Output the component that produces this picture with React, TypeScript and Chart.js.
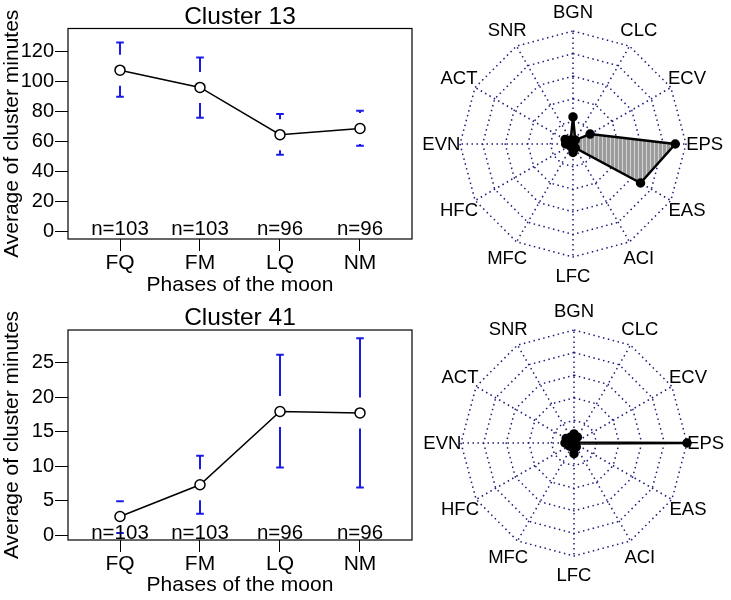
import React, { useEffect, useRef } from 'react';
import { Chart, registerables } from 'chart.js';

Chart.register(...registerables);

const FONT = '"Liberation Sans", Arial, Helvetica, sans-serif';

// ---- data ----
const phases = ['FQ', 'FM', 'LQ', 'NM'];
const sampleSizes = ['n=103', 'n=103', 'n=96', 'n=96'];

const c13Mean = [107.3, 95.8, 64.3, 68.4];
const c13Upper = [125.8, 115.8, 78.0, 80.2];
const c13Lower = [89.6, 75.5, 50.9, 56.9];
const c13YTicks = [0, 20, 40, 60, 80, 100, 120];

const c41Mean = [2.7, 7.3, 17.9, 17.7];
const c41Upper = [4.9, 11.5, 26.1, 28.5];
const c41Lower = [0.3, 3.1, 9.8, 6.9];
const c41YTicks = [0, 5, 10, 15, 20, 25];

const indexLabels = ['BGN', 'CLC', 'ECV', 'EPS', 'EAS', 'ACI', 'LFC', 'MFC', 'HFC', 'EVN', 'ACT', 'SNR'];
const c13Index = [0.24, 0.04, 0.175, 0.905, 0.69, 0.04, 0.075, 0.03, 0.03, 0.065, 0.08, 0.04];
const c41Index = [0.08, 0.06, 0.01, 1.0, 0.01, 0.04, 0.095, 0.04, 0.05, 0.08, 0.08, 0.06];

type MeanProps = {
  title: string;
  mean: number[];
  upper: number[];
  lower: number[];
  yTicks: number[];
  yMin: number;
  yMax: number;
  top: number;
  areaTop: number;
  xAxisHeight: number;
};

function MeanChart(p: MeanProps) {
  const ref = useRef<HTMLCanvasElement>(null);
  useEffect(() => {
    const overlay = {
      id: 'overlay',
      afterDatasetsDraw(chart: any) {
        const { ctx, chartArea } = chart;
        const x = chart.scales.x;
        const y = chart.scales.y;
        const gap = 15.5;
        const cap = 3.8;
        ctx.save();
        ctx.strokeStyle = '#1a1ae6';
        ctx.lineWidth = 2;
        p.mean.forEach((m, i) => {
          const px = x.getPixelForValue(i + 1);
          const pm = y.getPixelForValue(m);
          const pu = y.getPixelForValue(p.upper[i]);
          const pl = y.getPixelForValue(p.lower[i]);
          ctx.beginPath();
          if (pu < pm - gap) {
            ctx.moveTo(px, pu);
            ctx.lineTo(px, pm - gap);
          }
          ctx.moveTo(px - cap, pu);
          ctx.lineTo(px + cap, pu);
          if (pl > pm + gap) {
            ctx.moveTo(px, pm + gap);
            ctx.lineTo(px, pl);
          }
          ctx.moveTo(px - cap, pl);
          ctx.lineTo(px + cap, pl);
          ctx.stroke();
        });
        // sample sizes
        ctx.fillStyle = '#000';
        ctx.font = `20.5px ${FONT}`;
        ctx.textAlign = 'center';
        ctx.textBaseline = 'alphabetic';
        const y0 = y.getPixelForValue(0);
        sampleSizes.forEach((t, i) => ctx.fillText(t, x.getPixelForValue(i + 1), y0 + 3.5));
        // box
        ctx.strokeStyle = '#000';
        ctx.lineWidth = 1.2;
        ctx.strokeRect(chartArea.left, chartArea.top, chartArea.right - chartArea.left, chartArea.bottom - chartArea.top);
        // title
        ctx.font = `24.5px ${FONT}`;
        ctx.textAlign = 'center';
        ctx.textBaseline = 'alphabetic';
        ctx.fillText(p.title, (chartArea.left + chartArea.right) / 2, chartArea.top - 5);
        // y axis title
        ctx.save();
        ctx.translate(12, (chartArea.top + chartArea.bottom) / 2);
        ctx.rotate(-Math.PI / 2);
        ctx.font = `21px ${FONT}`;
        ctx.textAlign = 'center';
        ctx.textBaseline = 'middle';
        ctx.fillText('Average of cluster minutes', 0, 0);
        ctx.restore();
        ctx.restore();
      },
    };

    const chart = new Chart(ref.current as HTMLCanvasElement, {
      type: 'line',
      data: {
        datasets: [
          {
            data: p.mean.map((m, i) => ({ x: i + 1, y: m })),
            borderColor: '#000',
            borderWidth: 1.5,
            pointRadius: 5,
            pointBorderWidth: 1.5,
            pointBorderColor: '#000',
            pointBackgroundColor: '#fff',
            tension: 0,
            fill: false,
          },
        ],
      },
      options: {
        responsive: false,
        animation: false,
        devicePixelRatio: 1,
        layout: { padding: { left: 0, right: 8, top: p.areaTop, bottom: 0 } },
        plugins: {
          legend: { display: false },
          tooltip: { enabled: false },
          title: { display: false },
        },
        scales: {
          x: {
            type: 'linear',
            min: 0.35,
            max: 4.65,
            afterBuildTicks: (s: any) => {
              s.ticks = phases.map((_, i) => ({ value: i + 1 }));
            },
            afterFit: (s: any) => {
              s.height = p.xAxisHeight;
            },
            ticks: {
              callback: (v: any) => phases[Number(v) - 1] ?? '',
              font: { family: FONT, size: 21 },
              color: '#000',
              padding: 0,
              maxRotation: 0,
              autoSkip: false,
            },
            grid: { drawOnChartArea: false, drawTicks: true, tickLength: 12, color: '#000', lineWidth: 1 },
            border: { display: false },
            title: {
              display: true,
              text: 'Phases of the moon',
              color: '#000',
              font: { family: FONT, size: 21 },
              padding: { top: 0, bottom: 2.4 },
            },
          },
          y: {
            type: 'linear',
            min: p.yMin,
            max: p.yMax,
            afterBuildTicks: (s: any) => {
              s.ticks = p.yTicks.map((v) => ({ value: v }));
            },
            afterFit: (s: any) => {
              s.width = 68;
            },
            ticks: { font: { family: FONT, size: 20 }, color: '#000', padding: 1 },
            grid: { drawOnChartArea: false, drawTicks: true, tickLength: 13, color: '#000', lineWidth: 1 },
            border: { display: false },
          },
        },
      } as any,
      plugins: [overlay],
    });
    return () => chart.destroy();
  }, []);
  return (
    <canvas
      ref={ref}
      width={420}
      height={300}
      style={{ position: 'absolute', left: 0, top: p.top, width: 420, height: 300 }}
    />
  );
}

type RadarProps = { values: number[]; left: number; top: number; padL: number; padT: number };

function RadarChart(p: RadarProps) {
  const ref = useRef<HTMLCanvasElement>(null);
  useEffect(() => {
    const tile = document.createElement('canvas');
    tile.width = 4;
    tile.height = 4;
    const tctx = tile.getContext('2d') as CanvasRenderingContext2D;
    tctx.fillStyle = '#9c9c9c';
    tctx.fillRect(0, 0, 4, 4);
    tctx.fillStyle = '#d4d4d4';
    tctx.fillRect(2, 0, 1, 4);
    const pattern = (ref.current as HTMLCanvasElement).getContext('2d')!.createPattern(tile, 'repeat');

    const W = 311;
    const H = 300;
    const size = 226;
    const labelsPlugin = {
      id: 'radarLabels',
      afterDraw(chart: any) {
        const r = chart.scales.r;
        const ctx = chart.ctx;
        ctx.save();
        ctx.fillStyle = '#000';
        ctx.font = `18.5px ${FONT}`;
        ctx.textAlign = 'center';
        ctx.textBaseline = 'middle';
        indexLabels.forEach((t, i) => {
          const pos = r.getPointPosition(i, r.drawingArea * 1.165);
          ctx.fillText(t, pos.x, pos.y + 1);
        });
        ctx.restore();
      },
    };
    const gridColor = '#1b1b78';
    const chart = new Chart(ref.current as HTMLCanvasElement, {
      type: 'radar',
      data: {
        labels: indexLabels,
        datasets: [
          {
            data: p.values,
            borderColor: '#000',
            borderWidth: 2.5,
            pointRadius: 3.5,
            pointBackgroundColor: '#000',
            pointBorderColor: '#000',
            backgroundColor: pattern as any,
            fill: true,
            clip: false,
          } as any,
        ],
      },
      options: {
        responsive: false,
        animation: false,
        devicePixelRatio: 1,
        layout: {
          padding: { left: p.padL, right: W - p.padL - size, top: p.padT, bottom: H - p.padT - size },
        },
        plugins: { legend: { display: false }, tooltip: { enabled: false } },
        scales: {
          r: {
            min: 0,
            max: 1,
            ticks: { display: false, stepSize: 0.2 },
            pointLabels: { display: false },
            grid: { color: gridColor, lineWidth: 1.5, borderDash: [1.5, 3.5] },
            border: { dash: [1.5, 3.5] },
            angleLines: { color: gridColor, lineWidth: 1.5, borderDash: [1.5, 3.5] },
          },
        },
      } as any,
      plugins: [labelsPlugin],
    });
    return () => chart.destroy();
  }, []);
  return (
    <canvas
      ref={ref}
      width={311}
      height={300}
      style={{ position: 'absolute', left: p.left, top: p.top, width: 311, height: 300 }}
    />
  );
}

export default function App() {
  return (
    <div style={{ position: 'absolute', left: 0, top: 0, width: 731, height: 600, background: '#fff', overflow: 'hidden' }}>
      <MeanChart
        title="Cluster 13"
        mean={c13Mean}
        upper={c13Upper}
        lower={c13Lower}
        yTicks={c13YTicks}
        yMin={-5.3}
        yMax={135.1}
        top={0}
        areaTop={28.5}
        xAxisHeight={61}
      />
      <MeanChart
        title="Cluster 41"
        mean={c41Mean}
        upper={c41Upper}
        lower={c41Lower}
        yTicks={c41YTicks}
        yMin={-0.7}
        yMax={29.7}
        top={300}
        areaTop={30}
        xAxisHeight={60}
      />
      <RadarChart values={c13Index} left={420} top={0} padL={40} padT={31} />
      <RadarChart values={c41Index} left={420} top={300} padL={41} padT={30} />
    </div>
  );
}
